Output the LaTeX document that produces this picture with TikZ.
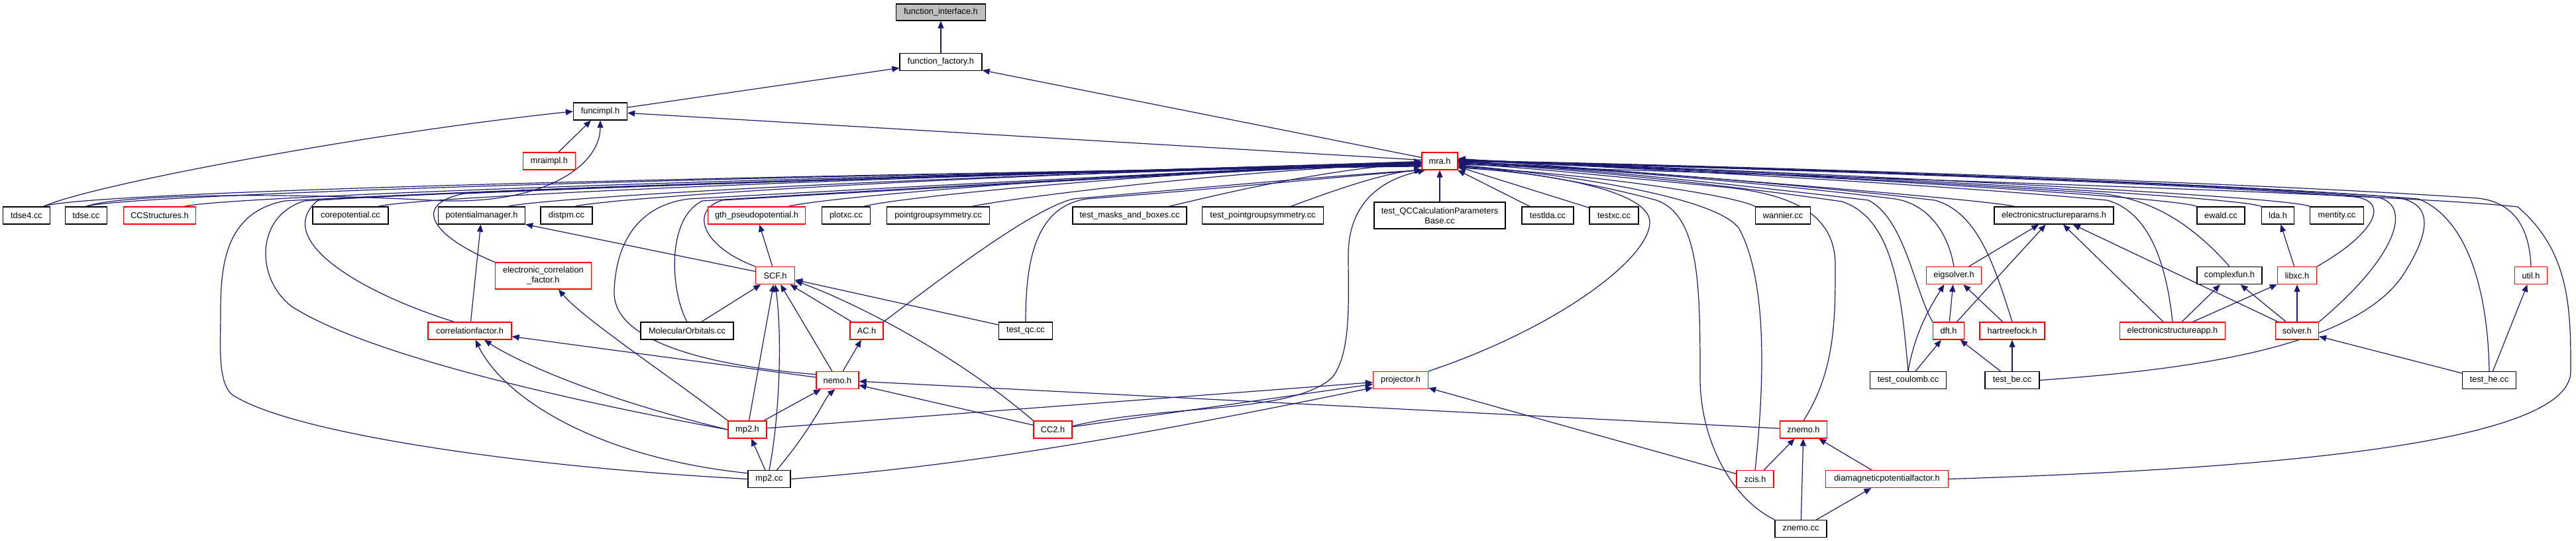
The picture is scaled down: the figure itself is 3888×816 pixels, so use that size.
\documentclass[tikz,border=0pt]{standalone}
\usepackage{fontspec}
\setmainfont{Liberation Sans}
\usetikzlibrary{arrows.meta}
\definecolor{edgec}{RGB}{25,25,112}
\definecolor{redb}{RGB}{255,0,0}
\pgfdeclarelayer{edges}
\pgfsetlayers{edges,main}
\newcommand\nodefont{\fontsize{12.8}{15}\selectfont}
\begin{document}
\begin{tikzpicture}[x=1pt,y=-1pt,
  box/.style={draw=black,line width=1.3pt,fill=white,minimum height=26pt,inner xsep=0pt,inner ysep=0pt,font=\nodefont,align=center},
  rbox/.style={box,draw=redb},
  e/.style={draw=edgec,line width=1.2pt,-{Triangle[length=11pt,width=9pt]}}]
\useasboundingbox (0,0) rectangle (3888,816);
% top
\node[box,minimum width=135pt,minimum height=25pt,fill=gray!50] (fi) at (1420,18.5) {function\_interface.h};
\node[box,minimum width=124pt] (ff) at (1420,93.5) {function\_factory.h};
\node[box,minimum width=81pt] (funcimpl) at (906,168) {funcimpl.h};
\node[rbox,minimum width=79pt] (mraimpl) at (829,243) {mraimpl.h};
\node[rbox,minimum width=54pt] (mra) at (2173,243) {mra.h};
% row A
\node[box,minimum width=71pt] (tdse4) at (40,325) {tdse4.cc};
\node[box,minimum width=63pt] (tdse) at (130,325) {tdse.cc};
\node[rbox,minimum width=109pt] (ccstruct) at (241,325) {CCStructures.h};
\node[box,minimum width=114pt] (corepot) at (529,325) {corepotential.cc};
\node[box,minimum width=131pt] (potman) at (727,325) {potentialmanager.h};
\node[box,minimum width=78pt] (distpm) at (855,325) {distpm.cc};
\node[rbox,minimum width=147pt] (gth) at (1142,325) {gth\_pseudopotential.h};
\node[box,minimum width=73pt] (plotxc) at (1277,325) {plotxc.cc};
\node[box,minimum width=155pt] (pgs) at (1416,325) {pointgroupsymmetry.cc};
\node[box,minimum width=172pt] (tmab) at (1705,325) {test\_masks\_and\_boxes.cc};
\node[box,minimum width=183pt] (tpgs) at (1906,325) {test\_pointgroupsymmetry.cc};
\node[box,minimum width=198pt,minimum height=40pt] (tqcp) at (2173,325) {test\_QCCalculationParameters\\Base.cc};
\node[box,minimum width=78pt] (testlda) at (2336,325) {testlda.cc};
\node[box,minimum width=74pt] (testxc) at (2436,325) {testxc.cc};
\node[box,minimum width=83pt] (wannier) at (2691,325) {wannier.cc};
\node[box,minimum width=180pt] (esp) at (3100,325) {electronicstructureparams.h};
\node[box,minimum width=72pt] (ewald) at (3352,325) {ewald.cc};
\node[box,minimum width=49pt] (lda) at (3438,325) {lda.h};
\node[box,minimum width=81pt] (mentity) at (3527,325) {mentity.cc};
% row B
\node[rbox,minimum width=145pt,minimum height=40pt] (ecf) at (820,416) {electronic\_correlation\\\_factor.h};
\node[rbox,minimum width=59pt] (scf) at (1170,415.5) {SCF.h};
\node[rbox,minimum width=83pt] (eigsolver) at (2949,415.5) {eigsolver.h};
\node[box,minimum width=98pt] (complexfun) at (3365,415.5) {complexfun.h};
\node[rbox,minimum width=59pt] (libxc) at (3467,415.5) {libxc.h};
\node[rbox,minimum width=49pt] (util) at (3820,415.5) {util.h};
% row C
\node[rbox,minimum width=126pt] (corrfac) at (709,499) {correlationfactor.h};
\node[box,minimum width=140pt] (molorb) at (1037,499) {MolecularOrbitals.cc};
\node[rbox,minimum width=50pt] (ac) at (1308,499) {AC.h};
\node[box,minimum width=81pt] (testqc) at (1548,499) {test\_qc.cc};
\node[rbox,minimum width=47pt] (dft) at (2941,499) {dft.h};
\node[rbox,minimum width=98pt] (hf) at (3037,499) {hartreefock.h};
\node[rbox,minimum width=159pt] (esapp) at (3279,499) {electronicstructureapp.h};
\node[rbox,minimum width=65pt] (solver) at (3467,499) {solver.h};
% row D
\node[rbox,minimum width=64pt] (nemo) at (1264,573.5) {nemo.h};
\node[rbox,minimum width=83pt] (projector) at (2114,573.5) {projector.h};
\node[box,minimum width=115pt] (tcoul) at (2880,573.5) {test\_coulomb.cc};
\node[box,minimum width=82pt] (tbe) at (3037,573.5) {test\_be.cc};
\node[box,minimum width=81pt] (the) at (3757,573.5) {test\_he.cc};
% row E
\node[rbox,minimum width=58pt] (mp2h) at (1128,648) {mp2.h};
\node[rbox,minimum width=58pt] (cc2) at (1589,648) {CC2.h};
\node[rbox,minimum width=71pt] (znemoh) at (2722,648) {znemo.h};
% row F
\node[box,minimum width=64pt] (mp2cc) at (1161,722.5) {mp2.cc};
\node[rbox,minimum width=56pt] (zcis) at (2649,722.5) {zcis.h};
\node[rbox,minimum width=185pt] (diamag) at (2848,722.5) {diamagneticpotentialfactor.h};
\node[box,minimum width=78pt] (znemocc) at (2718,797.5) {znemo.cc};

\begin{pgfonlayer}{edges}
% top
\draw[e] (ff) -- (fi);
\draw[e] (funcimpl) -- (ff);
\draw[e] (mra) -- (ff);
\draw[e] (mra) -- (funcimpl);
\draw[e] (mraimpl) -- (funcimpl);
\draw[e] (tdse4.28) .. controls (140,278) and (560,200) .. (funcimpl.west);
\draw[e] (tdse.north) .. controls (180,293) and (420,290) .. (650,302) .. controls (820,312) and (906,250) .. (funcimpl.south);
% left bundle into mra
\draw[e] (tdse4.28) .. controls (120,288) and (1250,262) .. (mra.196);
\draw[e] (tdse.north) .. controls (190,292) and (1250,262) .. (mra.194);
\draw[e] (ccstruct.20) .. controls (330,296) and (1300,262) .. (mra.193);
\draw[e] (corepot.18) .. controls (620,297) and (1400,262) .. (mra.192);
\draw[e] (potman.19) .. controls (820,298) and (1450,262) .. (mra.191);
\draw[e] (distpm.47) .. controls (920,298) and (1500,260) .. (mra.190);
\draw[e] (gth.16) .. controls (1240,298) and (1700,258) .. (mra.188);
\draw[e] (plotxc.27) .. controls (1350,298) and (1750,258) .. (mra.187);
\draw[e] (pgs.15) .. controls (1530,298) and (1850,258) .. (mra.186);
\draw[e] (tmab.13) .. controls (1830,296) and (1980,258) .. (mra.185);
\draw[e] (tpgs.18) .. controls (1990,296) and (2080,262) .. (mra.205);
\draw[e] (tqcp) -- (mra);
% from below, left
\draw[e] (ecf.north west) .. controls (660,360) and (615,310) .. (700,292) .. controls (1200,270) and (1900,254) .. (mra.184);
\draw[e] (corrfac.150) .. controls (540,440) and (410,360) .. (480,302) .. controls (800,280) and (1850,254) .. (mra.183);
\draw[e] (mp2h.west) .. controls (900,612) and (560,540) .. (440,462) .. controls (385,420) and (385,325) .. (460,303) .. controls (800,282) and (1850,254) .. (mra.182);
\draw[e] (mp2cc.west) .. controls (800,705) and (440,655) .. (350,595) .. controls (328,575) and (333,520) .. (333,470) .. controls (333,400) and (340,320) .. (430,303) .. controls (800,282) and (1850,254) .. (mra.181);
\draw[e] (nemo.165) .. controls (1050,550) and (925,510) .. (927,440) .. controls (929,370) and (960,310) .. (1040,300) .. controls (1400,280) and (1900,254) .. (mra.183);
\draw[e] (molorb.north) .. controls (1012,440) and (1005,330) .. (1060,303) .. controls (1400,282) and (1900,255) .. (mra.185);
\draw[e] (scf.north west) .. controls (1060,372) and (1040,318) .. (1090,302) .. controls (1400,284) and (1900,256) .. (mra.186);
\draw[e] (ac.north east) .. controls (1440,405) and (1560,315) .. (1620,300) .. controls (1800,284) and (2050,262) .. (mra.207);
\draw[e] (testqc.north) .. controls (1548,400) and (1560,312) .. (1640,300) .. controls (1850,284) and (2050,264) .. (mra.208);
\draw[e] (cc2.10) .. controls (1750,610) and (1950,625) .. (2010,570) .. controls (2040,535) and (2035,450) .. (2035,385) .. controls (2035,310) and (2080,272) .. (mra.212);
% right side into mra
\draw[e] (testlda) -- (mra);
\draw[e] (testxc) -- (mra);
\draw[e] (wannier.north west) .. controls (2620,295) and (2400,262) .. (mra.342);
\draw[e] (projector.north east) .. controls (2350,495) and (2490,390) .. (2490,335) .. controls (2490,290) and (2350,262) .. (mra.340);
\draw[e] (znemocc.north west) .. controls (2610,750) and (2566,660) .. (2566,570) .. controls (2566,430) and (2565,325) .. (2500,302) .. controls (2420,280) and (2300,258) .. (mra.345);
\draw[e] (zcis.north) .. controls (2665,560) and (2665,420) .. (2625,345) .. controls (2590,295) and (2350,262) .. (mra.348);
\draw[e] (znemoh.north) .. controls (2770,560) and (2770,480) .. (2770,400) .. controls (2770,320) and (2700,292) .. (2600,282) .. controls (2450,268) and (2300,252) .. (mra.352);
\draw[e] (tcoul.north) .. controls (2870,450) and (2860,330) .. (2780,304) .. controls (2600,278) and (2350,252) .. (mra.354);
\draw[e] (dft.north west) .. controls (2890,440) and (2875,330) .. (2820,302) .. controls (2600,276) and (2350,250) .. (mra.356);
\draw[e] (eigsolver.north) .. controls (2940,350) and (2910,308) .. (2860,300) .. controls (2650,274) and (2350,250) .. (mra.357);
\draw[e] (hf.north) .. controls (3010,400) and (2985,320) .. (2920,302) .. controls (2700,276) and (2350,249) .. (mra.358);
\draw[e] (esp.167) .. controls (2990,300) and (2500,262) .. (mra.8);
\draw[e] (esapp.north) .. controls (3270,400) and (3245,320) .. (3180,302) .. controls (2900,276) and (2400,250) .. (mra.3);
\draw[e] (complexfun.north) .. controls (3310,340) and (3250,300) .. (3170,292) .. controls (2900,272) and (2400,250) .. (mra.2);
\draw[e] (ewald.north west) .. controls (3290,298) and (2700,262) .. (mra.6);
\draw[e] (lda.north west) .. controls (3380,296) and (2700,260) .. (mra.5);
\draw[e] (mentity.north west) .. controls (3460,296) and (2700,258) .. (mra.4);
\draw[e] (libxc.north east) .. controls (3580,355) and (3610,305) .. (3555,297) .. controls (3200,270) and (2500,250) .. (mra.1);
\draw[e] (solver.north east) .. controls (3620,385) and (3640,310) .. (3590,298) .. controls (3250,270) and (2500,249) .. (mra.0);
\draw[e] (tbe.east) .. controls (3300,558) and (3560,525) .. (3630,410) .. controls (3680,330) and (3660,302) .. (3610,297) .. controls (3250,270) and (2500,248) .. (mra.359);
\draw[e] (the.north) .. controls (3755,440) and (3725,330) .. (3650,300) .. controls (3300,272) and (2500,248) .. (mra.1);
\draw[e] (util.north) .. controls (3818,345) and (3795,305) .. (3740,299) .. controls (3350,272) and (2500,247) .. (mra.2);
\draw[e] (diamag.east) .. controls (3500,705) and (3880,660) .. (3880,560) .. controls (3880,470) and (3880,380) .. (3800,312) .. controls (3600,290) and (2600,262) .. (mra.350);
% other edges
\draw[e] (scf) -- (gth);
\draw[e] (scf) -- (potman);
\draw[e] (corrfac) -- (potman);
\draw[e] (mp2h.north west) .. controls (1000,560) and (880,480) .. (ecf.-42);
\draw[e] (molorb) -- (scf);
\draw[e] (ac) -- (scf);
\draw[e] (nemo) -- (scf);
\draw[e] (mp2h) -- (scf);
\draw[e] (mp2cc.north) .. controls (1178,620) and (1180,500) .. (scf.south);
\draw[e] (testqc) -- (scf);
\draw[e] (cc2.north west) .. controls (1450,540) and (1300,460) .. (scf.-15);
\draw[e] (nemo) -- (ac);
\draw[e] (nemo) -- (corrfac);
\draw[e] (mp2h.west) .. controls (900,600) and (780,545) .. (corrfac.-32);
\draw[e] (mp2cc.165) .. controls (900,690) and (760,600) .. (corrfac.-58);
\draw[e] (mp2h) -- (nemo);
\draw[e] (mp2cc.50) .. controls (1230,640) and (1245,600) .. (nemo.-105);
\draw[e] (mp2cc) -- (mp2h);
\draw[e] (cc2) -- (nemo);
\draw[e] (znemoh) -- (nemo);
\draw[e] (mp2h) -- (projector);
\draw[e] (cc2) -- (projector);
\draw[e] (mp2cc.east) .. controls (1500,700) and (1800,640) .. (projector.-165);
\draw[e] (zcis) -- (projector);
\draw[e] (zcis) -- (znemoh);
\draw[e] (znemocc) -- (znemoh);
\draw[e] (znemocc) -- (diamag);
\draw[e] (diamag) -- (znemoh);
\draw[e] (tcoul.north) .. controls (2890,500) and (2915,460) .. (eigsolver.-137);
\draw[e] (tcoul) -- (dft);
\draw[e] (dft) -- (eigsolver);
\draw[e] (dft) -- (esp);
\draw[e] (hf) -- (eigsolver);
\draw[e] (eigsolver) -- (esp);
\draw[e] (tbe) -- (dft);
\draw[e] (tbe) -- (hf);
\draw[e] (esapp) -- (esp);
\draw[e] (solver) -- (esp);
\draw[e] (esapp) -- (complexfun);
\draw[e] (esapp) -- (libxc);
\draw[e] (solver) -- (complexfun);
\draw[e] (solver) -- (libxc);
\draw[e] (libxc) -- (lda);
\draw[e] (the) -- (solver);
\draw[e] (the) -- (util);
\end{pgfonlayer}
\end{tikzpicture}
\end{document}
